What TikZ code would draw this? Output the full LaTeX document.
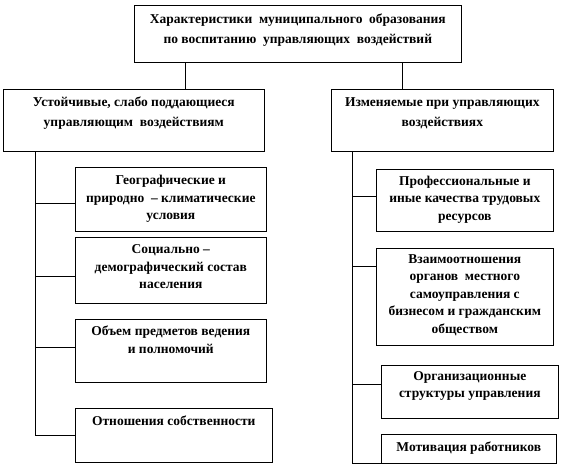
\documentclass[tikz,border=0pt]{standalone}
\usepackage{fontspec}
\setmainfont{Liberation Serif}
\newcommand\hdrfont{\fontsize{13.5}{20}\selectfont\bfseries}
\newcommand\subfont{\fontsize{13.5}{17.5}\selectfont\bfseries}
\newcommand\bxt[5]{\parbox[c][#2pt][t]{#1pt}{\vspace*{#3pt}#4\centering\strut #5\par}}
\tikzset{
  box/.style={draw, line width=0.6pt, inner sep=0pt, anchor=north west},
  conn/.style={line width=0.6pt},
}
\begin{document}
\begin{tikzpicture}[x=1pt,y=-1pt]
\useasboundingbox (0,0) rectangle (579,474);
% header boxes
\node[box] (top) at (134,5) {\bxt{327}{57}{4}{\hdrfont}{Характеристики\ \ муниципального\ \ образования\\по воспитанию\ \ управляющих\ \ воздействий}};
\node[box] (L) at (3,89) {\bxt{261}{62}{3}{\hdrfont}{Устойчивые, слабо поддающиеся\\управляющим\ \ воздействиям}};
\node[box] (R) at (331,89) {\bxt{222}{62}{3}{\hdrfont}{Изменяемые при управляющих\\воздействиях}};
% left children
\node[box] (L1) at (75,167) {\bxt{191}{64}{5}{\subfont}{Географические и\\природно\ \ – климатические\\условия}};
\node[box] (L2) at (75,237) {\bxt{191}{66}{4}{\subfont}{Социально –\\демографический состав\\населения}};
\node[box] (L3) at (75,319) {\bxt{191}{63}{4}{\subfont}{Объем предметов ведения\\и полномочий}};
\node[box] (L4) at (75,408) {\bxt{197}{54}{5}{\subfont}{Отношения собственности}};
% right children
\node[box] (R1) at (376,169) {\bxt{177}{62}{3.5}{\subfont}{Профессиональные и\\иные качества трудовых\\ресурсов}};
\node[box] (R2) at (376,248) {\bxt{177}{97}{2.5}{\subfont}{Взаимоотношения\\органов\ \ местного\\самоуправления с\\бизнесом и гражданским\\обществом}};
\node[box] (R3) at (381,365) {\bxt{177}{53}{2.5}{\subfont}{Организационные\\структуры управления}};
\node[box] (R4) at (381,434) {\bxt{175}{29}{4.5}{\subfont}{Мотивация работников}};
% connector guides
\coordinate (cl) at (185,0);
\coordinate (cr) at (402,0);
\coordinate (lsp) at (35,0);
\coordinate (rsp) at (352,0);
\coordinate (a1) at ([yshift=-4pt]L1.west);
\coordinate (a2) at ([yshift=-6pt]L2.west);
\coordinate (a3) at ([yshift=3.5pt]L3.west);
\coordinate (b1) at ([yshift=4pt]R1.west);
\coordinate (b2) at ([yshift=-18pt]R2.north west);
\coordinate (b3) at ([yshift=7.5pt]R3.west);
% top connectors
\draw[conn] (top.south -| cl) -- (L.north -| cl);
\draw[conn] (top.south -| cr) -- (R.north -| cr);
% left spine
\draw[conn] (L.south -| lsp) |- (L4.west);
\draw[conn] (lsp |- a1) -- (a1);
\draw[conn] (lsp |- a2) -- (a2);
\draw[conn] (lsp |- a3) -- (a3);
% right spine
\draw[conn] (R.south -| rsp) |- (R4.south west);
\draw[conn] (rsp |- b1) -- (b1);
\draw[conn] (rsp |- b2) -- (b2);
\draw[conn] (rsp |- b3) -- (b3);
\end{tikzpicture}
\end{document}
